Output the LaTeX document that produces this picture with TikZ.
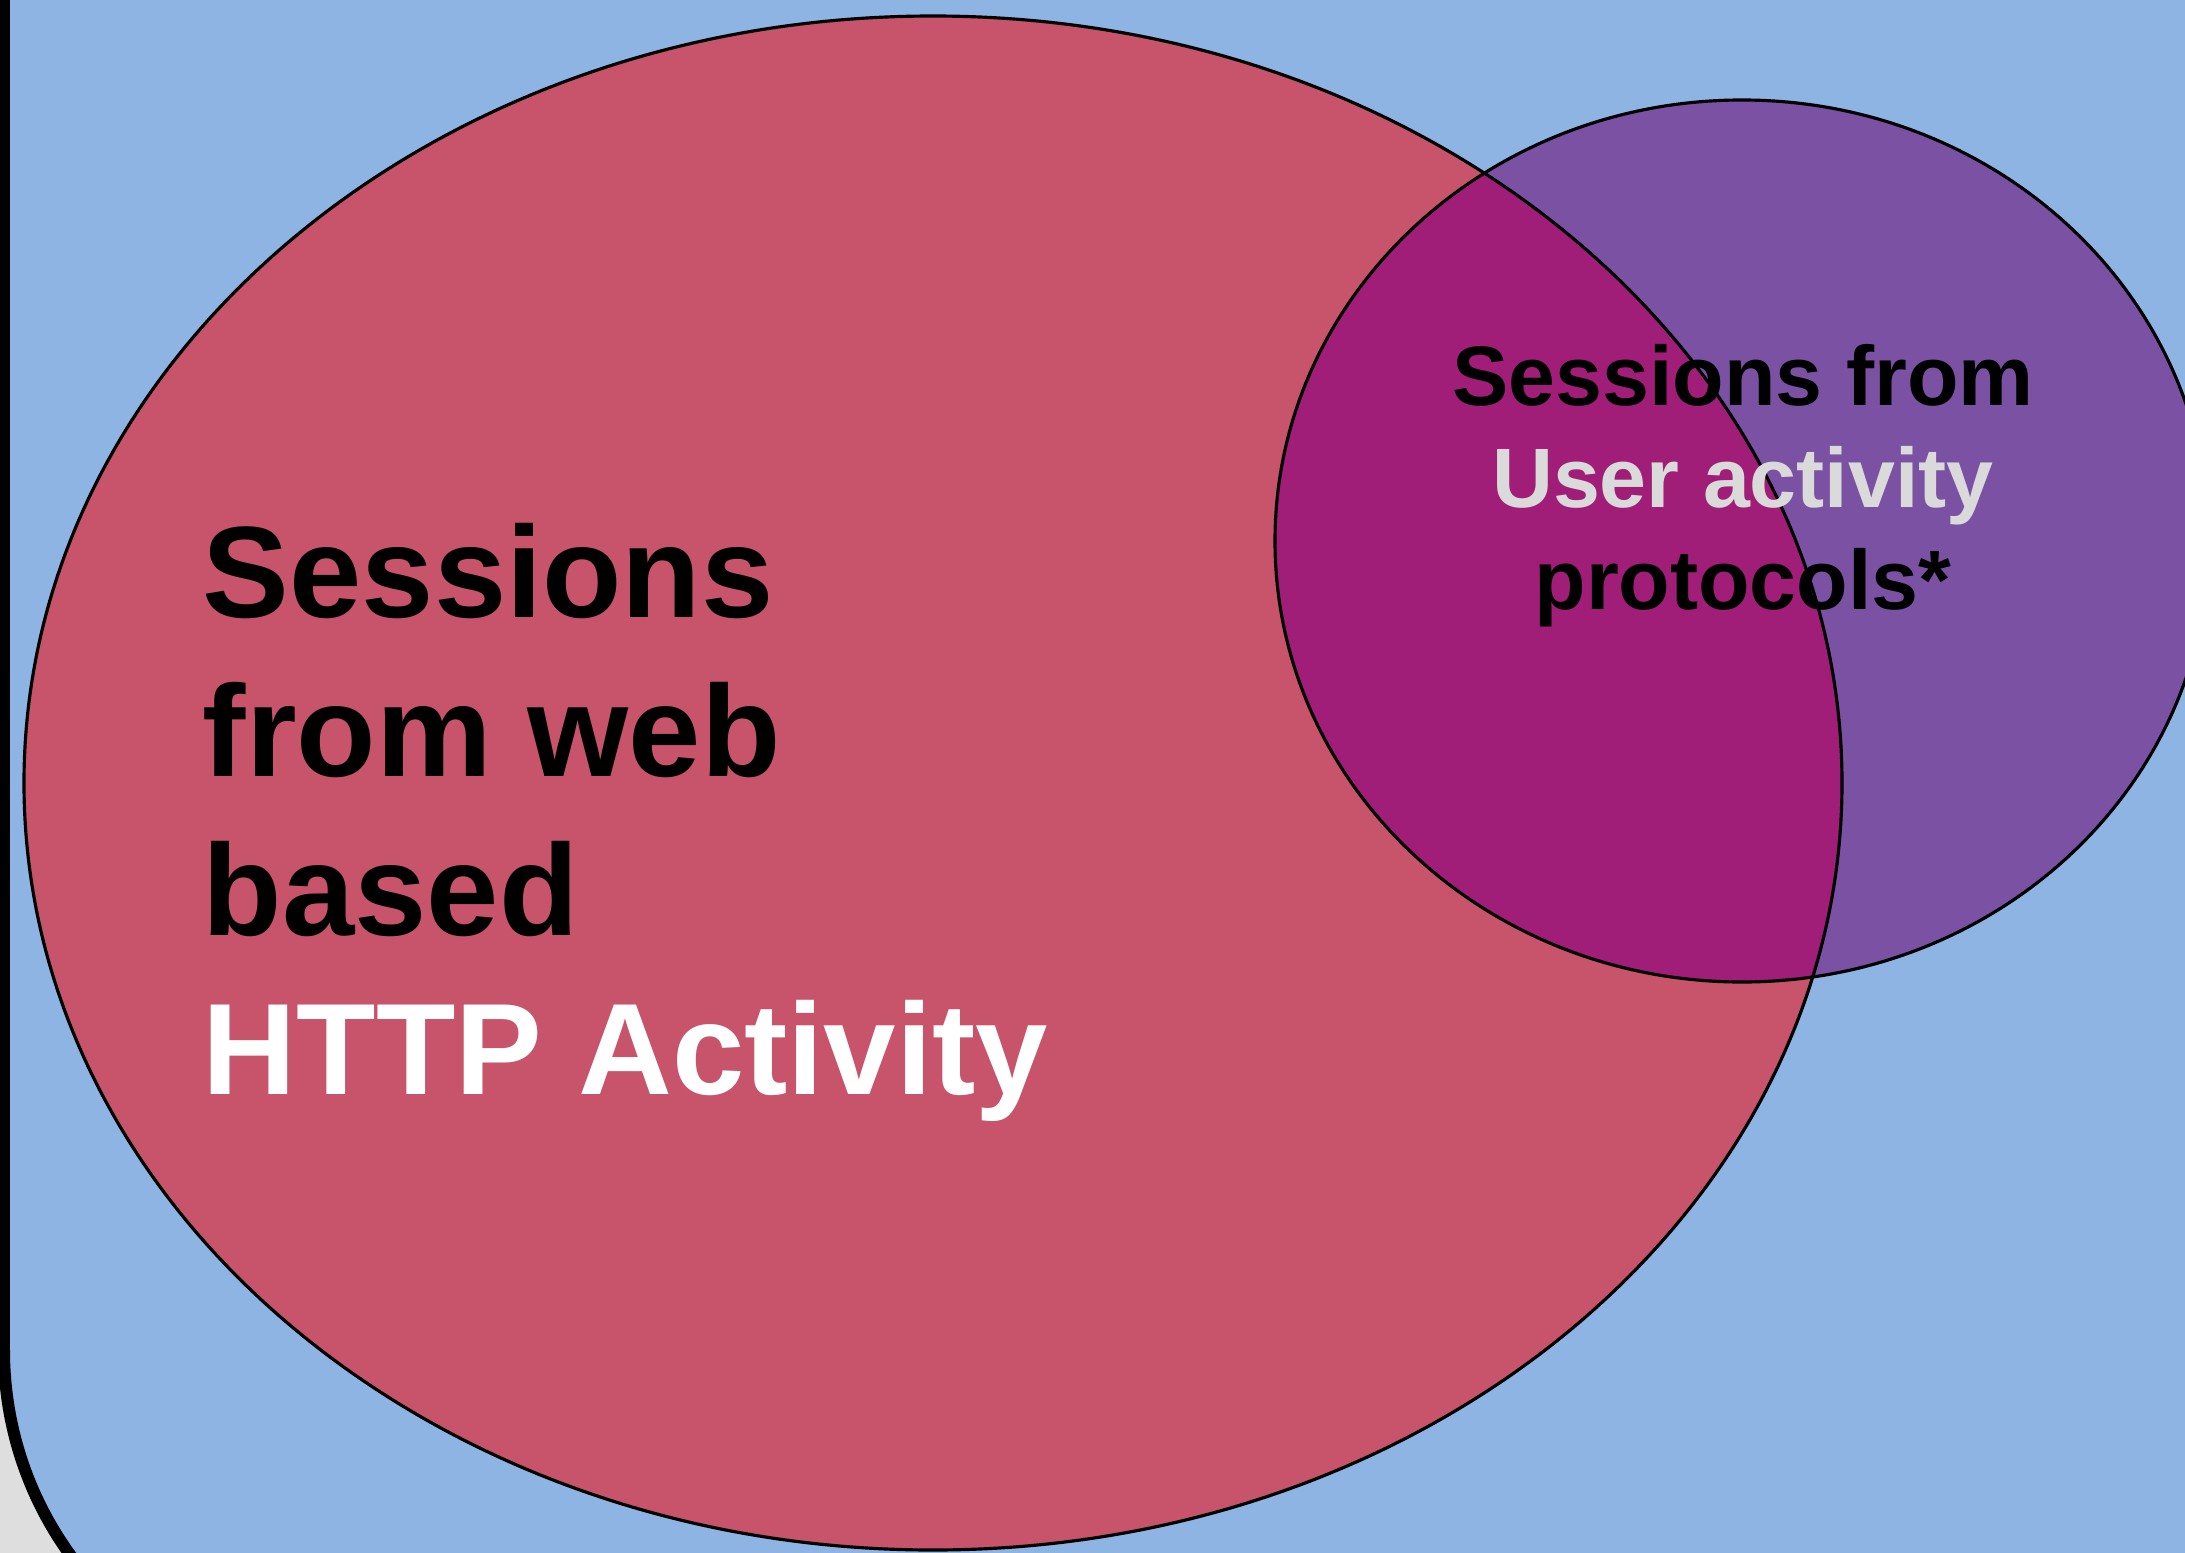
\documentclass[tikz,border=0pt]{standalone}
\usepackage{fontspec}
\setmainfont{Liberation Sans}
\usetikzlibrary{positioning}

\definecolor{slideblue}{HTML}{8EB4E3}
\definecolor{setred}{HTML}{C7546A}
\definecolor{setpurple}{HTML}{7B52A3}
\definecolor{setmix}{HTML}{A11E78}
\definecolor{pagegrey}{HTML}{DEDEDE}
\definecolor{lightgreytxt}{HTML}{DADADA}

\begin{document}
\begin{tikzpicture}[
    venn/.style={draw=black, line width=0.9pt},
    bigtxt/.style={font=\fontsize{37}{45.2}\selectfont\bfseries, align=left, inner sep=0pt},
    smalltxt/.style={font=\fontsize{24}{29}\selectfont\bfseries, align=center, inner sep=0pt}
  ]
    \useasboundingbox (0,0) rectangle (21.85,-15.53);
    \clip (0,0) rectangle (21.85,-15.53);

    % slide background
    \fill[pagegrey] (0,0) rectangle (21.85,-15.53);
    \draw[line width=0.12cm, fill=slideblue] (0.04,2) -- (0.04,-13.5)
      arc[start angle=180, end angle=270, radius=3.5] -- (25,-17) -- (25,2) -- cycle;

    % sets
    \coordinate (webc) at (9.33,-7.83);
    \coordinate (userc) at (17.42,-5.41);
    \fill[setred] (webc) ellipse [x radius=9.09, y radius=7.67];
    \fill[setpurple] (userc) ellipse [x radius=4.67, y radius=4.41];
    \begin{scope}
      \clip (webc) ellipse [x radius=9.09, y radius=7.67];
      \fill[setmix] (userc) ellipse [x radius=4.67, y radius=4.41];
    \end{scope}
    \draw[venn] (webc) ellipse [x radius=9.09, y radius=7.67];
    \draw[venn] (userc) ellipse [x radius=4.67, y radius=4.41];

    % labels (base = last line)
    \node[bigtxt, anchor=base west] (webtxt) at (2.02,-10.94)
      {Sessions\\from web\\based\\\textcolor{white}{HTTP Activity}};
    \node[smalltxt, anchor=base] (usertxt) at (17.43,-6.09)
      {Sessions from\\\textcolor{lightgreytxt}{User activity}\\protocols*};
\end{tikzpicture}
\end{document}
